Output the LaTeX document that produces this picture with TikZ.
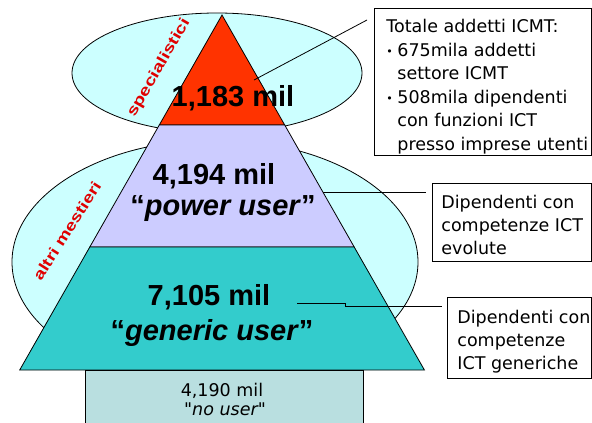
\documentclass[tikz,border=0pt]{standalone}
\usepackage{fontspec}
\usepackage{graphicx}
\setmainfont{Liberation Sans}
\newfontfamily\boxfont{DejaVu Sans}
\definecolor{topred}{HTML}{FF3300}
\definecolor{midpurple}{HTML}{CCCCFF}
\definecolor{lowteal}{HTML}{33CCCC}
\definecolor{ellcyan}{HTML}{CCFFFF}
\definecolor{nousercol}{HTML}{B9DFE0}
\definecolor{redtxt}{HTML}{E00000}
\newcommand{\smallbul}{\makebox[11pt][l]{\raisebox{1pt}{\fontsize{11}{11}\selectfont •}}}
\begin{document}
\begin{tikzpicture}[x=1pt,y=-1pt,line width=0.8pt,
  big/.style={font=\bfseries\fontsize{29}{31}\selectfont,inner sep=0pt,anchor=base},
  small/.style={font=\boxfont\fontsize{17.5}{19}\selectfont,inner sep=0pt,anchor=base},
  boxtxt/.style={font=\boxfont\fontsize{17.5}{23.5}\selectfont,inner sep=0pt,align=left,anchor=north west},
  callout/.style={draw=black,line width=0.9pt,fill=white,inner sep=0pt,anchor=north west},
  redlab/.style={font=\bfseries\fontsize{15}{15}\selectfont,text=redtxt,inner sep=0pt},
  link/.style={draw=black,line width=0.8pt},
  ell/.style={draw=black,fill=ellcyan,line width=0.8pt},
  layer/.style={draw=black,line width=0.8pt}]
\useasboundingbox (0,0) rectangle (592,423);
\fill[white] (0,0) rectangle (592,423);
% background ellipses
\draw[ell] (215,262) ellipse [x radius=203, y radius=122];
\draw[ell] (217,73) ellipse [x radius=145, y radius=60];
% pyramid layers
\draw[layer,fill=topred] (222,15) -- (284.7,125) -- (159.3,125) -- cycle;
\draw[layer,fill=midpurple] (159.3,125) -- (284.7,125) -- (354.2,247) -- (89.8,247) -- cycle;
\draw[layer,fill=lowteal] (89.8,247) -- (354.2,247) -- (424.4,370) -- (19.7,370) -- cycle;
\node[draw=black,fill=nousercol,line width=0.8pt,minimum width=278pt,minimum height=60pt,inner sep=0pt,anchor=north west] (nouser) at (85,370) {};
% labels
\node[big] (l1) at (233,106) {1,183 mil};
\node[big] (l2) at (214,184) {4,194 mil};
\node[big] (l2b) at (223,215) {“\textit{power user}”};
\node[big] (l3) at (209,305) {7,105 mil};
\node[big] (l3b) at (212,340) {“\textit{generic user}”};
\node[small] (nu1) at (222,396) {4,190 mil};
\node[small] (nu2) at (225,415) {\textit{"no user"}};
% rotated red labels
\node[redlab,rotate=60] (spec) at (159,68) {\scalebox{1.3}[1]{specialistici}};
\node[redlab,rotate=57.5] (altri) at (67,231) {\scalebox{1.27}[1]{altri mestieri}};
% callout boxes
\node[callout,minimum width=217pt,minimum height=147pt] (box1) at (374,8) {};
\node[boxtxt] (t1) at (386,19) {Totale addetti ICMT:\\
\smallbul 675mila addetti\\
\hspace*{11pt}settore ICMT\\
\smallbul 508mila dipendenti\\
\hspace*{11pt}con funzioni ICT\\
\hspace*{11pt}presso imprese utenti};
\node[callout,minimum width=159pt,minimum height=78pt] (box2) at (432,183) {};
\node[boxtxt,font=\boxfont\fontsize{17.5}{23}\selectfont] (t2) at (441,195) {Dipendenti con\\competenze ICT\\evolute};
\node[callout,minimum width=144pt,minimum height=81pt] (box3) at (447,297) {};
\node[boxtxt,font=\boxfont\fontsize{17.5}{23}\selectfont] (t3) at (457,310) {Dipendenti con\\competenze\\ICT generiche};
% connectors
\coordinate (c1s) at (254,80);
\coordinate (c1e) at (367,20);
\draw[link] (c1s) -- (c1e);
\coordinate (c2s) at (323,192);
\draw[link,shorten >=6pt] (c2s) -- (c2s -| box2.west);
\coordinate (c3s) at (297,303);
\coordinate (c3e) at (442,306);
\draw[link] (c3s) -- ++(48,0) -- ++(0,3) -- (c3e);
\end{tikzpicture}
\end{document}
